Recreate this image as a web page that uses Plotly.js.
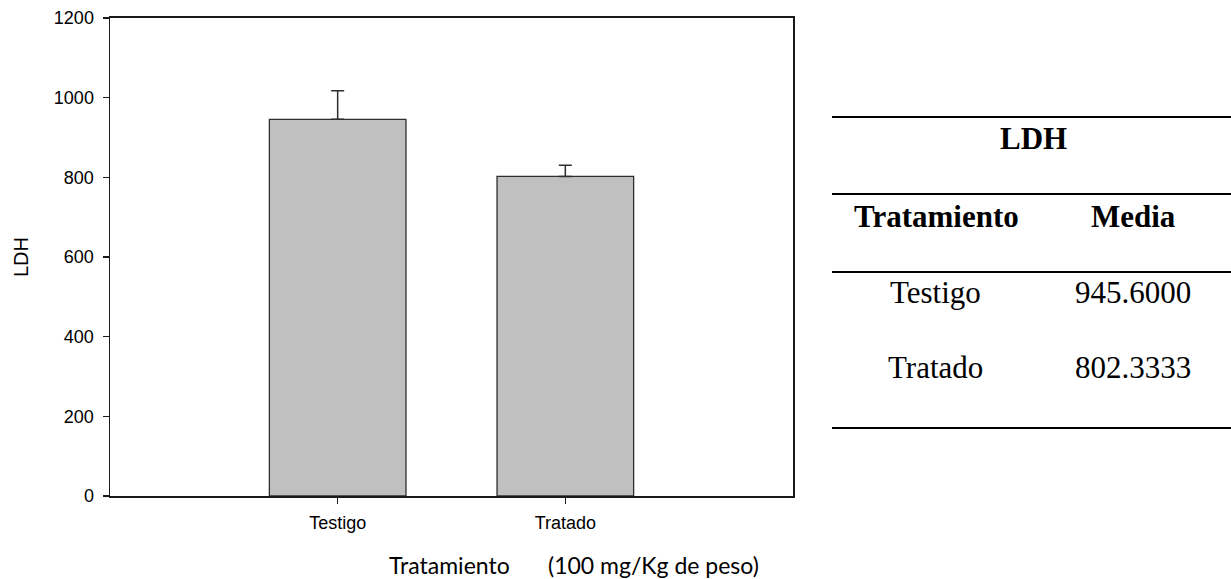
<!DOCTYPE html>
<html>
<head>
<meta charset="utf-8">
<script src="https://cdn.plot.ly/plotly-3.0.1.min.js"></script>
<style>html,body{margin:0;padding:0;background:#fff;}#chart{width:1231px;height:579px;}</style>
</head>
<body>
<div id="chart"></div>
<script>
// ---- data ----
var categories = ['Testigo', 'Tratado'];
var means = [945.6, 802.3333];
var errors = [72, 28];
var yTicks = [0, 200, 400, 600, 800, 1000, 1200];
var yLabel = 'LDH';
var xLabelMain = 'Tratamiento';
var xLabelUnit = '(100 mg/Kg de peso)';
var tableTitle = 'LDH';
var tableHeader = ['Tratamiento', 'Media'];
var tableValues = means.map(function (v) { return v.toFixed(4); });

// ---- layout helpers (pixel -> paper) ----
var W = 1231, H = 579;
var mL = 110, mR = 438, mT = 18, mB = 83;
var pw = W - mL - mR, ph = H - mT - mB;
function px(x) { return (x - mL) / pw; }
function py(y) { return (H - mB - y) / ph; }

var trace = {
  type: 'bar',
  x: categories,
  y: means,
  width: 0.6,
  marker: { color: '#c0c0c0', line: { color: '#2e2e2e', width: 1.3 } },
  error_y: { type: 'data', array: errors, symmetric: false, arrayminus: [0, 0],
             color: '#2e2e2e', thickness: 1.5, width: 6.5 },
  hoverinfo: 'none'
};

var serif = 'Liberation Serif, Times New Roman, serif';
var sansX = 'Lato, sans-serif';
var annotations = [
  { text: xLabelMain, x: px(449.5), y: py(565), xref: 'paper', yref: 'paper',
    showarrow: false, xanchor: 'center', yanchor: 'middle',
    font: { family: sansX, size: 23, color: '#000' } },
  { text: xLabelUnit, x: px(653.5), y: py(565), xref: 'paper', yref: 'paper',
    showarrow: false, xanchor: 'center', yanchor: 'middle',
    font: { family: sansX, size: 23, color: '#000' } },
  { text: '<b>' + tableTitle + '</b>', x: px(1033), y: py(138), xref: 'paper', yref: 'paper',
    showarrow: false, xanchor: 'center', yanchor: 'middle',
    font: { family: serif, size: 31, color: '#000' } },
  { text: '<b>' + tableHeader[0] + '</b>', x: px(936), y: py(216), xref: 'paper', yref: 'paper',
    showarrow: false, xanchor: 'center', yanchor: 'middle',
    font: { family: serif, size: 31, color: '#000' } },
  { text: '<b>' + tableHeader[1] + '</b>', x: px(1133), y: py(216), xref: 'paper', yref: 'paper',
    showarrow: false, xanchor: 'center', yanchor: 'middle',
    font: { family: serif, size: 31, color: '#000' } }
];
var rowY = [292, 367];
for (var i = 0; i < categories.length; i++) {
  annotations.push({ text: categories[i], x: px(935), y: py(rowY[i]), xref: 'paper', yref: 'paper',
    showarrow: false, xanchor: 'center', yanchor: 'middle',
    font: { family: serif, size: 31, color: '#000' } });
  annotations.push({ text: tableValues[i], x: px(1133), y: py(rowY[i]), xref: 'paper', yref: 'paper',
    showarrow: false, xanchor: 'center', yanchor: 'middle',
    font: { family: serif, size: 31, color: '#000' } });
}

var lineY = [117, 194, 272, 428];
var shapes = lineY.map(function (yy) {
  return { type: 'line', xref: 'paper', yref: 'paper', x0: px(832), x1: px(1231),
           y0: py(yy), y1: py(yy), line: { color: '#000', width: 2.2 } };
});

var layout = {
  width: W, height: H,
  margin: { l: mL, r: mR, t: mT, b: mB, pad: 0 },
  paper_bgcolor: '#fff', plot_bgcolor: '#fff',
  showlegend: false,
  font: { family: 'Liberation Sans, Arial, sans-serif', size: 18, color: '#000' },
  xaxis: {
    type: 'category', range: [-1, 2],
    showline: true, linecolor: '#1a1a1a', linewidth: 2, mirror: true,
    ticks: 'outside', ticklen: 6, tickcolor: '#1a1a1a', tickwidth: 1.3,
    ticklabelstandoff: 3,
    showgrid: false, zeroline: false,
    tickfont: { family: 'Liberation Sans, Arial, sans-serif', size: 18, color: '#000' },
    fixedrange: true
  },
  yaxis: {
    range: [0, 1200], tickvals: yTicks, ticktext: yTicks.map(String),
    showline: true, linecolor: '#1a1a1a', linewidth: 1.5, mirror: true,
    ticks: 'outside', ticklen: 6, tickcolor: '#1a1a1a', tickwidth: 1.3,
    ticklabelstandoff: 5,
    showgrid: false, zeroline: false,
    tickfont: { family: 'Liberation Sans, Arial, sans-serif', size: 18, color: '#000' },
    title: { text: yLabel, standoff: 20, font: { family: 'Liberation Sans, Arial, sans-serif', size: 20, color: '#000' } },
    fixedrange: true
  },
  annotations: annotations,
  shapes: shapes
};

Plotly.newPlot('chart', [trace], layout, { displayModeBar: false, staticPlot: true });
</script>
</body>
</html>
